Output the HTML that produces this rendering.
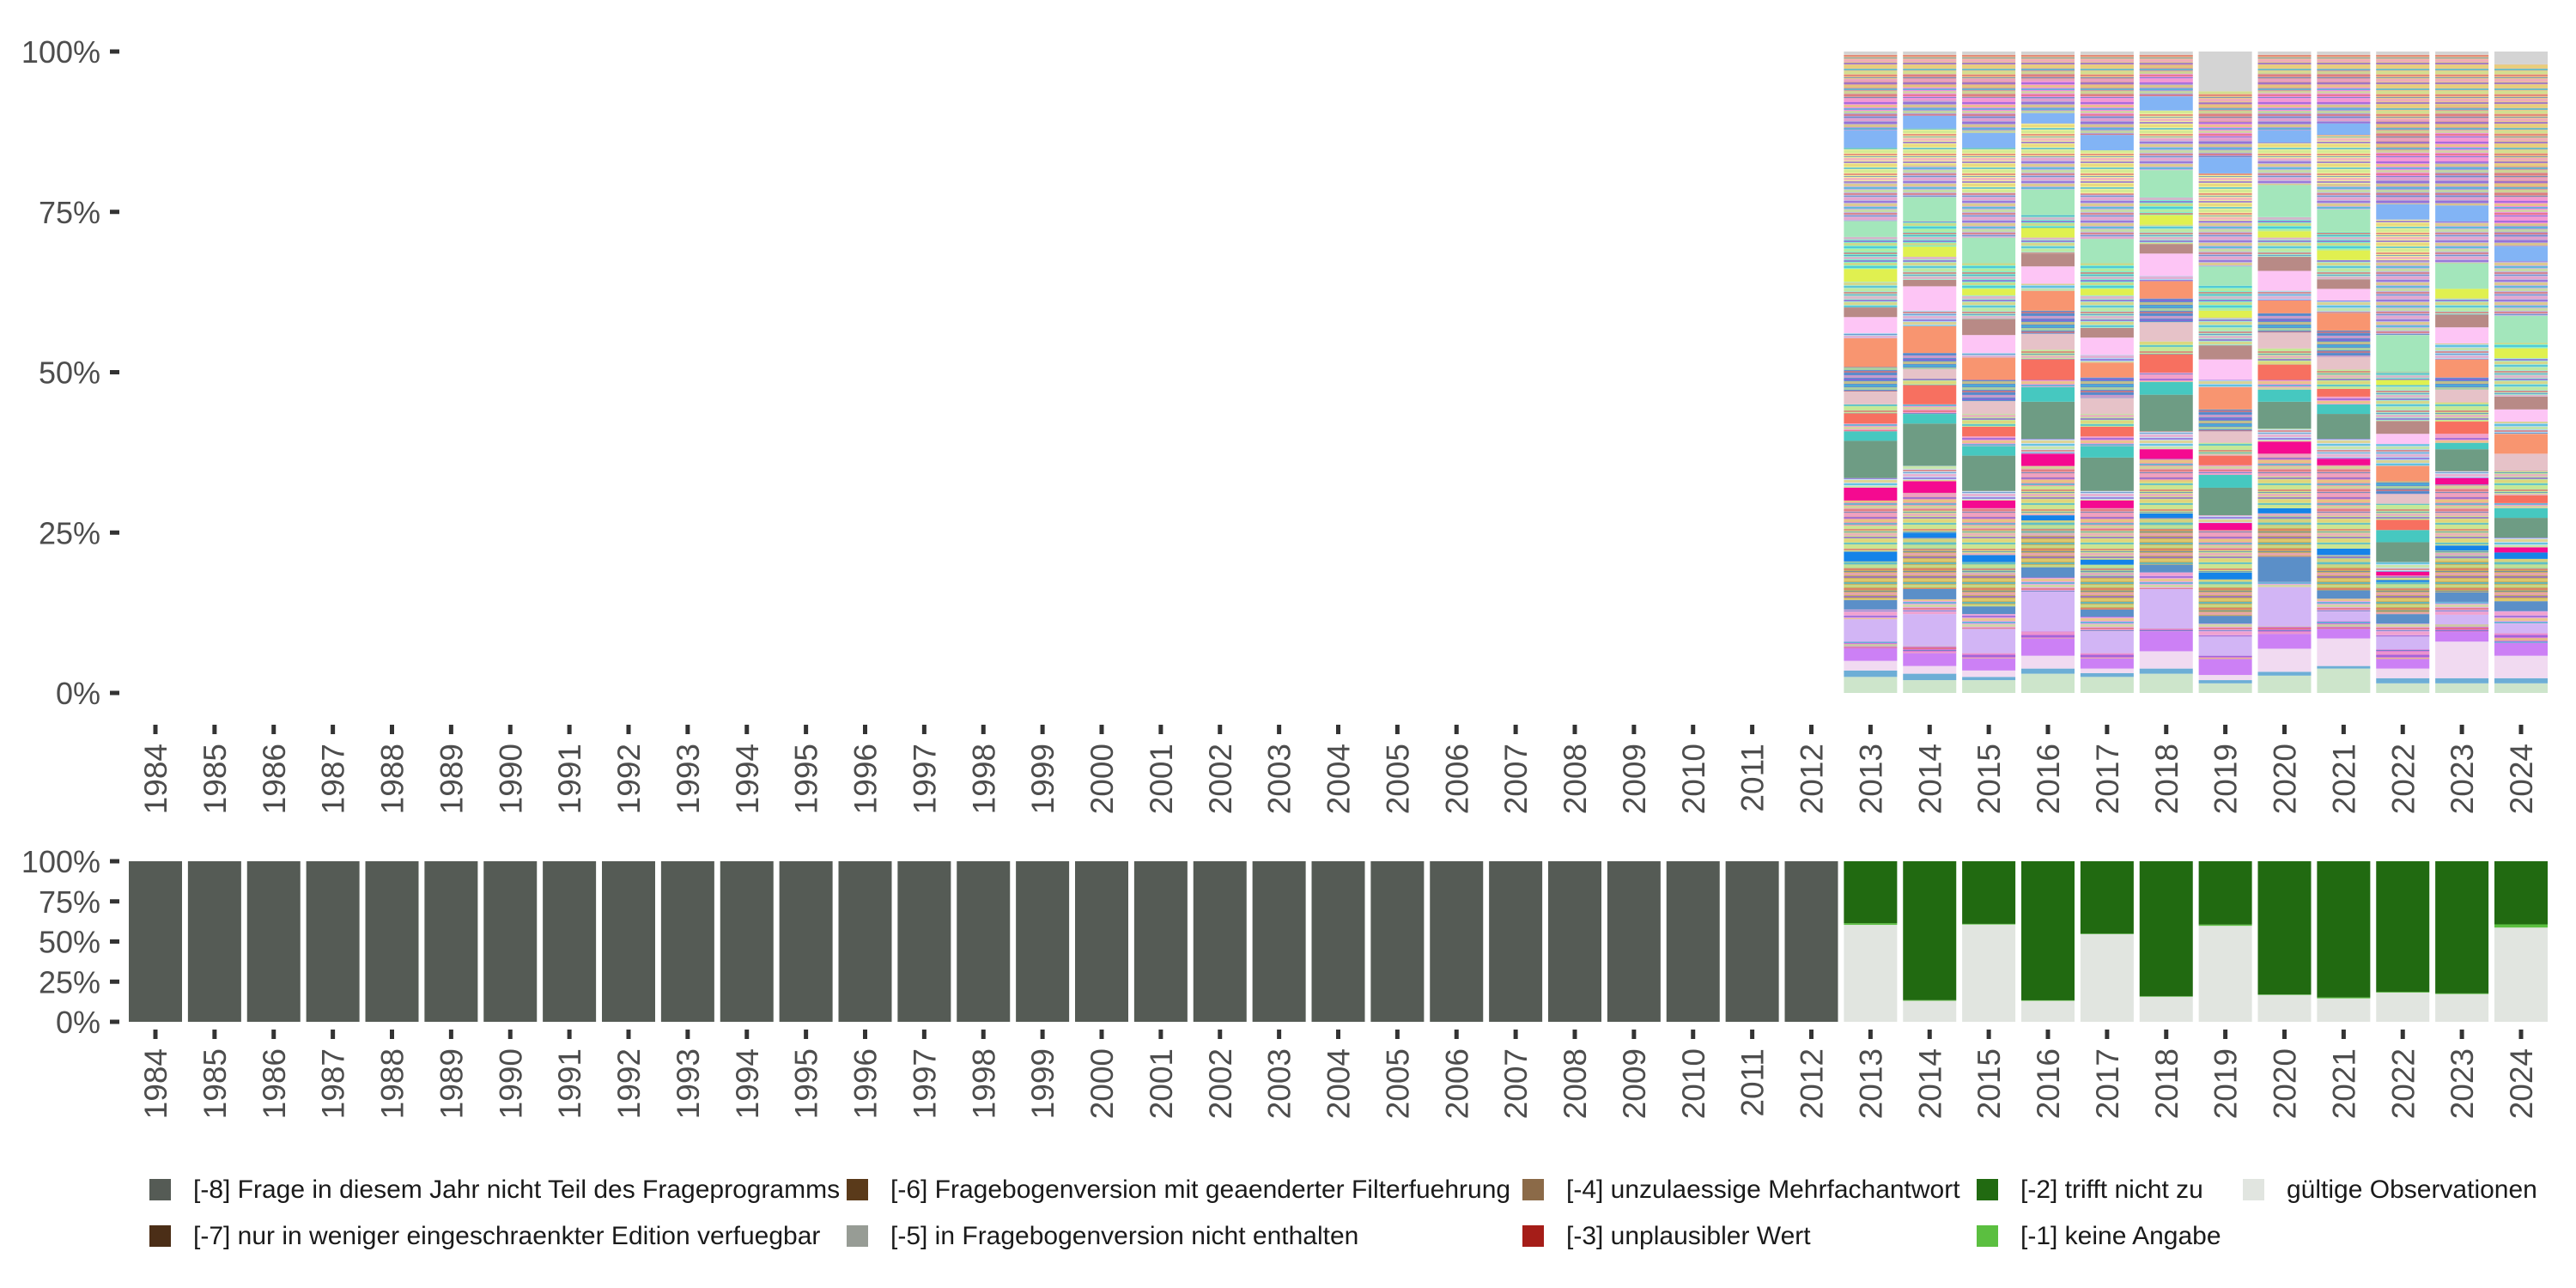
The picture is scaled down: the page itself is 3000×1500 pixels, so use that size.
<!DOCTYPE html>
<html><head><meta charset="utf-8">
<style>
html,body{margin:0;padding:0;background:#fff;}
svg{display:block;font-family:"Liberation Sans","DejaVu Sans",sans-serif;}
</style></head>
<body>
<svg id="chart" width="3000" height="1500" viewBox="0 0 3000 1500" xmlns="http://www.w3.org/2000/svg">
<defs>
<pattern id="stripes" patternUnits="userSpaceOnUse" width="62" height="23">
<rect x="0" y="0" width="62" height="3" fill="#f3a0c8"/>
<rect x="0" y="4" width="62" height="2" fill="#8a5ed8"/>
<rect x="0" y="7" width="62" height="3" fill="#e8d070"/>
<rect x="0" y="11" width="62" height="2" fill="#40b8d8"/>
<rect x="0" y="14" width="62" height="3" fill="#c8e890"/>
<rect x="0" y="18" width="62" height="2" fill="#e07070"/>
<rect x="0" y="21" width="62" height="1" fill="#5080c0"/>
</pattern>
</defs>
<g id="top-panel"></g>
<g id="bottom-panel"></g>
<g id="legend"></g>
</svg>
<script>
const years = [];
for (let y = 1984; y <= 2024; y++) years.push(String(y));
const yTickValues = [0, 25, 50, 75, 100];
const yTickLabels = ["0%", "25%", "50%", "75%", "100%"];

// top panel: detailed answer categories (bottom -> top), only 2013-2024 have data
const topYears = ["2013","2014","2015","2016","2017","2018","2019","2020","2021","2022","2023","2024"];
const catColors = ["#cde5cb","#6daed6","#f1daf1","#cc80f5","#d678d8","#d2b5f5","#e8a8e0","#5b8fc8","#c8b060","#a8d0a0","#1583e8","#d0e090","#e8a0b0","#f50a90","#c8e0f0","#6e9c84","#46c8c0","#f0a0d0","#f77060","#c0e8a0","#e6c2c8","#6090d0","#f89570","#b0d8f0","#fdc5f5","#b88a86","#a8e8d0","#e0f050","#80f0d0","#a3e6bb","#c0b8e0","#f0f0a0","#82b4f5","#b0a0d8","#f090e0","#d8a0a0","#e8c890","#d4d4d4"];
const catStriped = [0,0,0,0,1,0,1,0,1,1,0,1,1,0,1,0,0,1,0,1,0,1,0,1,0,0,1,0,1,0,1,1,0,1,1,1,1,0];
const v2013 = [2.5,1,1.5,2,1,3.5,1.5,1.5,5,1,1.5,4,4,2,1.5,5.8,1.5,1.2,1.6,1.4,2,3.8,4.5,0.8,2.5,1.5,4,2,5,2.5,6,5.4,2.7,3,2,3,3.8,0.5];
const v2014 = [2,1,1.2,2,1.1,5,2.3,1.6,6,2,0.8,3.5,2.7,1.8,2.4,6.6,1.5,1.5,3,1,1.5,2.5,4.2,2.4,3.8,1,3.6,1.6,3.9,3.8,5,5.7,2,2.5,2,2,3,0.5];
const v2015 = [2,0.5,1,1.9,0.8,3.8,2.3,1.2,5,1.9,1.1,4,3.3,1.2,1.5,5.5,1.5,1.5,1.5,2,2,3.3,3.5,0.7,2.8,2.5,3.7,1,4,4,7,7,2.3,3,2.5,3,3.7,0.5];
const v2016 = [3,0.8,2,2.7,1.1,6.2,2.2,1.6,5,2.3,0.8,4.5,3.2,1.9,2.3,5.8,2.3,1.1,3.2,1.5,2.5,3.6,3.1,1.1,2.7,2,2.5,1.5,2.1,3.9,5,5.3,1.6,2.5,2.5,2,2.1,0.5];
const v2017 = [2.5,0.6,0.7,1.6,0.8,3.4,2.3,1.1,5,2,0.8,4.5,3.5,1.2,1.5,5.2,1.8,1.5,1.5,2,2.5,3.2,2.3,1.2,2.7,1.5,5.1,1,4,3.8,7,6.8,2.4,3,3,3,3.5,0.5];
const v2018 = [3,0.8,2.7,3.1,0.4,6.2,2.6,1.2,5.5,1.8,0.7,5,3.5,1.5,2.8,5.7,2,1.5,2.8,2,3,3.7,2.7,0.8,3.5,1.5,3,1.5,2.8,4.2,5,4.3,2.2,2,1.5,1.5,1.5,0.5];
const v2019 = [1.5,0.5,0.8,2.5,0.5,3,2,1.2,4.5,1.2,1.1,3.5,3.1,1.1,1.2,4.3,2,1.5,1.5,2,1.8,3.4,3.5,1.1,3.2,2.2,4.3,1.1,3.9,3,7,7.5,2.5,3,2.5,3,1.8,6.2];
const v2020 = [2.7,0.6,3.6,2.3,1.2,6.1,0.8,3.9,5,1.8,0.8,5,3.5,1.9,2,4.2,1.9,1.5,2.4,2.5,2.5,3,2,1.5,3.1,2.2,3,1,2.2,5,4,2.6,1.9,3,3,3,2.8,0.5];
const v2021 = [3.8,0.4,4.3,1.5,1.2,1.5,2,1.3,4,1.5,1,5.5,7.5,1,3.1,3.9,1.5,1.2,1.2,3,2,4.1,2.7,2,1.8,1.5,3,1.5,3,3.4,4,7.6,1.8,3,3,2.5,2.2,0.5];
const v2022 = [1.5,0.8,1.5,1.5,1.5,2,2,1.5,4,1,0.3,0.5,0.2,0.6,1.5,3.1,1.9,0,1.6,2.5,1.5,2,2.4,3.4,1.6,2,5.6,0.8,1.2,5.8,11.5,6.5,2.4,4.2,4,5,10.1,0.5];
const v2023 = [1.5,0.8,5.7,1.5,1.2,1.5,2,1.5,5,1.5,0.8,5,4.5,1,1.1,3.4,1,1.4,1.9,3,2,1.9,2.8,2.5,2.5,2,2.5,1.5,0,4,6.5,0,2.5,6.7,5,4,7.8,0.5];
const v2024 = [1.5,0.8,3.5,2,1.5,1.5,2,1.5,5,1.6,1,0,0,0.8,1.5,3.1,1.5,0.8,1.2,3.8,2.7,0,3.1,1.9,1.9,2,6,1.5,0.9,4.2,8.5,0,2.3,3.5,4.2,5,15.7,2];
const topValues = [v2013,v2014,v2015,v2016,v2017,v2018,v2019,v2020,v2021,v2022,v2023,v2024];

// bottom panel: missing-code categories (percent), bottom -> top: valid, [-1], [-2], [-8]
const validPct   = [0,0,0,0,0,0,0,0,0,0,0,0,0,0,0,0,0,0,0,0,0,0,0,0,0,0,0,0,0,60.4,13.1,60.6,13.1,54.6,15.6,59.8,16.7,14.6,18.2,17.3,58.7];
const noAnswerPct= [0,0,0,0,0,0,0,0,0,0,0,0,0,0,0,0,0,0,0,0,0,0,0,0,0,0,0,0,0,1.0,0.4,0.4,0.3,0.3,0.3,0.8,0.3,0.6,0.4,0.4,2.0];
const notApplyPct= [0,0,0,0,0,0,0,0,0,0,0,0,0,0,0,0,0,0,0,0,0,0,0,0,0,0,0,0,0,38.6,86.5,39.0,86.6,45.1,84.1,39.4,83.0,84.8,81.4,82.3,39.3];
const notAskedPct= [100,100,100,100,100,100,100,100,100,100,100,100,100,100,100,100,100,100,100,100,100,100,100,100,100,100,100,100,100,0,0,0,0,0,0,0,0,0,0,0,0];
const bottomSeries = [
  {name:"gueltige-observationen", color:"#e1e5e0", vals:validPct},
  {name:"keine-angabe", color:"#5bbf40", vals:noAnswerPct},
  {name:"trifft-nicht-zu", color:"#216a11", vals:notApplyPct},
  {name:"nicht-im-frageprogramm", color:"#555b55", vals:notAskedPct}
];
const legendLabels = ["[-8] Frage in diesem Jahr nicht Teil des Frageprogramms","[-7] nur in weniger eingeschraenkter Edition verfuegbar","[-6] Fragebogenversion mit geaenderter Filterfuehrung","[-5] in Fragebogenversion nicht enthalten","[-4] unzulaessige Mehrfachantwort","[-3] unplausibler Wert","[-2] trifft nicht zu","[-1] keine Angabe","gültige Observationen"];
const legendColors = ["#555b55","#4b2e17","#5a3a1a","#979c95","#8b6a48","#a51d18","#216a11","#5bbf40","#e1e5e0"];

const NS = "http://www.w3.org/2000/svg";
function mk(tag, attrs, parent){const e=document.createElementNS(NS,tag);for(const k in attrs)e.setAttribute(k,attrs[k]);parent.appendChild(e);return e;}
const BAR_W = 62;
function xCenter(i){ return 181 + (2936-181)/40*i; }
function makeY(top, bottom){ return v => bottom - (bottom-top)*v/100; }
const yTop = makeY(60, 807);
const yBot = makeY(1003, 1190);

function axes(g, yS, tickY0, labelY, prefix){
  yTickValues.forEach((v,i)=>{
    const t = mk('rect',{x:128,y:yS(v)-2.5,width:11,height:5,fill:'#333'},g);
    
    
    const l = mk('text',{x:117,y:yS(v)+13,'text-anchor':'end','font-size':36,fill:'#4d4d4d'},g);
    l.textContent = yTickLabels[i];
    
    
  });
  years.forEach((yr,i)=>{
    const cx = xCenter(i);
    const t = mk('rect',{x:cx-2.5,y:tickY0,width:5,height:11,fill:'#333'},g);
    
    
    const l = mk('text',{x:0,y:0,'text-anchor':'end','font-size':37,fill:'#4d4d4d',transform:`translate(${cx+13},${labelY}) rotate(-90)`},g);
    l.textContent = yr;
    
    
  });
}

// top panel
const gTop = document.getElementById('top-panel');
topYears.forEach((yr,j)=>{
  const i = years.indexOf(yr);
  const vals = topValues[j];
  const total = vals.reduce((a,b)=>a+b,0);
  let cum = 0;
  const bar = mk('g',{},gTop);
  
  
  vals.forEach((v,k)=>{
    if (v<=0) return;
    const p0 = cum/total*100, p1 = (cum+v)/total*100;
    cum += v;
    const y1 = yTop(p1), y0 = yTop(p0);
    const r = mk('rect',{x:xCenter(i)-BAR_W/2,y:y1,width:BAR_W,height:y0-y1,fill:catColors[k]},bar);
    
    
    if (catStriped[k]) {
      const s = mk('rect',{x:xCenter(i)-BAR_W/2,y:y1,width:BAR_W,height:y0-y1,fill:'url(#stripes)',opacity:0.7},bar);
      
      
    }
  });
});
axes(gTop, yTop, 844, 866, 'top');

// bottom panel
const gBot = document.getElementById('bottom-panel');
years.forEach((yr,i)=>{
  let cum = 0;
  const bar = mk('g',{},gBot);
  
  
  bottomSeries.forEach(s=>{
    const v = s.vals[i];
    if (v<=0) return;
    const y1 = yBot(Math.min(100,cum+v)), y0 = yBot(cum);
    cum += v;
    const r = mk('rect',{x:xCenter(i)-BAR_W/2,y:y1,width:BAR_W,height:y0-y1,fill:s.color},bar);
    
    
  });
});
axes(gBot, yBot, 1199, 1221, 'bottom');

// legend
const gLeg = document.getElementById('legend');
const colX = [174, 986, 1773, 2302, 2612];
const rowY = [1385, 1439];
legendLabels.forEach((lab,k)=>{
  const c = Math.floor(k/2), r = k%2;
  const item = mk('g',{},gLeg);
  
  
  const sq = mk('rect',{x:colX[c],y:rowY[r]-12,width:25,height:25,fill:legendColors[k]},item);
  
  
  const t = mk('text',{x:colX[c]+51,y:rowY[r]+10,'font-size':30,fill:'#1a1a1a'},item);
  t.textContent = lab;
  
  
});
</script>
</body></html>
